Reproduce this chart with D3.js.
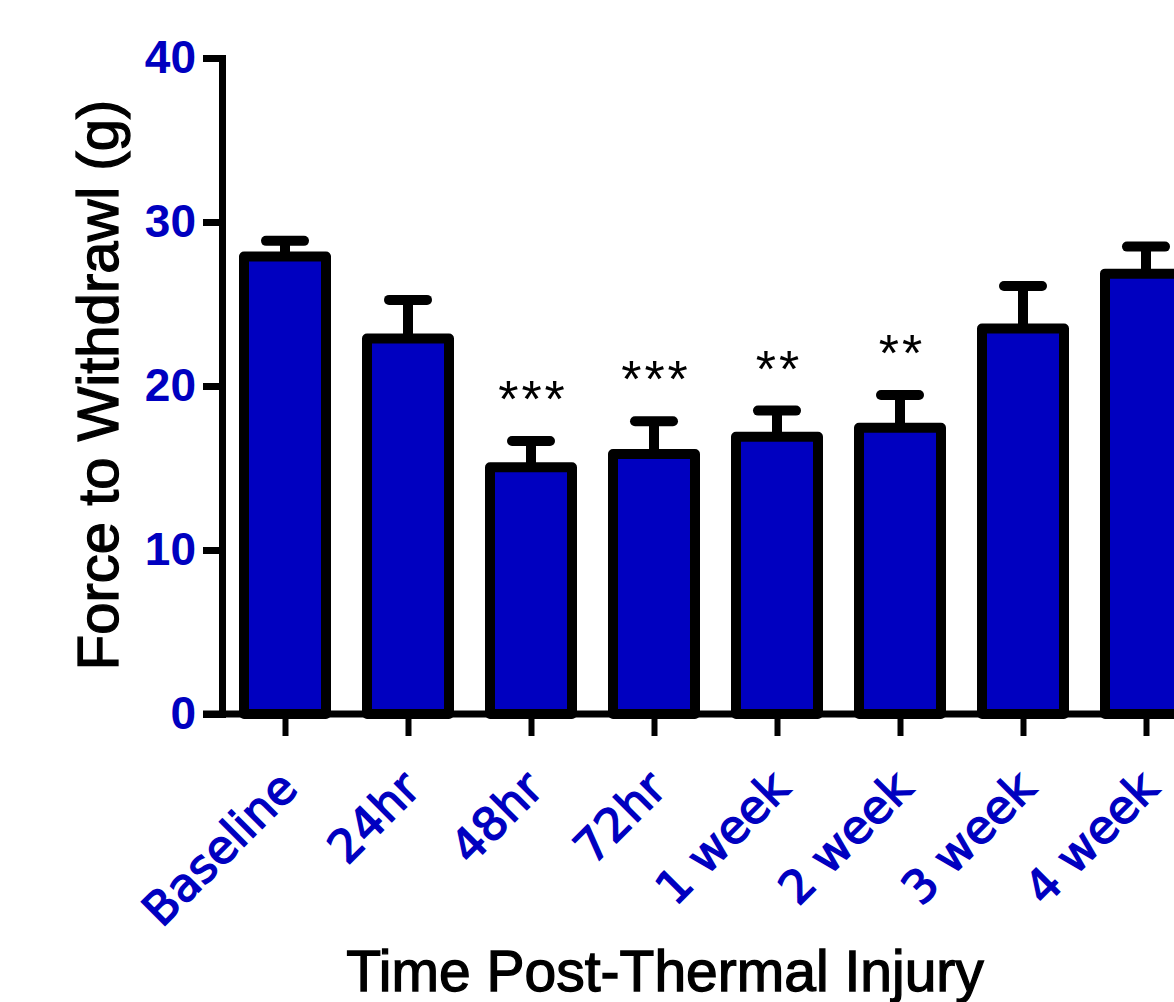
<!DOCTYPE html>
<html>
<head>
<meta charset="utf-8">
<script src="https://cdn.jsdelivr.net/npm/d3@7"></script>
<style>
  html, body { margin: 0; padding: 0; background: #fff; }
  svg { display: block; }
</style>
</head>
<body>
<svg id="chart" width="1174" height="1002"></svg>
<script>
// ---- data ----
const categories = ["Baseline", "24hr", "48hr", "72hr", "1 week", "2 week", "3 week", "4 week"];
const means = [27.9, 22.9, 15.05, 15.85, 16.9, 17.45, 23.5, 26.85];
const sems = [0.95, 2.35, 1.6, 2.0, 1.6, 2.0, 2.6, 1.65];
const significance = ["", "", "***", "***", "**", "**", "", ""];
const yTicks = [0, 10, 20, 30, 40];
const yTitle = "Force to Withdrawl (g)";
const xTitle = "Time Post-Thermal Injury";

// ---- layout ----
const BLUE = "#0000C0";
const svg = d3.select("#chart");
const axisX = 222, axisY = 714;
const y = d3.scaleLinear().domain([0, 40]).range([714, 58]);
const x = d3.scalePoint().domain(categories).range([285, 1146]);
const barW = 82;

const data = categories.map((c, i) => ({ c, m: means[i], s: sems[i], sig: significance[i] }));

// error bars (drawn first; bar outline covers stem base)
const eb = svg.append("g");
eb.selectAll("line.stem").data(data).join("line")
  .attr("x1", d => x(d.c)).attr("x2", d => x(d.c))
  .attr("y1", d => y(d.m)).attr("y2", d => y(d.m + d.s))
  .attr("stroke", "#000").attr("stroke-width", 10);
eb.selectAll("line.cap").data(data).join("line")
  .attr("x1", d => x(d.c) - 19).attr("x2", d => x(d.c) + 19)
  .attr("y1", d => y(d.m + d.s)).attr("y2", d => y(d.m + d.s))
  .attr("stroke", "#000").attr("stroke-width", 10).attr("stroke-linecap", "round");

// bars
svg.append("g").selectAll("rect").data(data).join("rect")
  .attr("x", d => x(d.c) - barW / 2)
  .attr("width", barW)
  .attr("y", d => y(d.m))
  .attr("height", d => y(0) - y(d.m))
  .attr("fill", BLUE)
  .attr("stroke", "#000").attr("stroke-width", 10).attr("stroke-linejoin", "round");

// significance stars
svg.append("g").selectAll("text").data(data.filter(d => d.sig)).join("text")
  .attr("x", d => x(d.c) + 2)
  .attr("y", d => y(d.m + d.s) - 24)
  .attr("text-anchor", "middle")
  .attr("font-family", "Liberation Sans, Arial, sans-serif")
  .attr("font-size", 52)
  .attr("letter-spacing", 3)
  .attr("fill", "#000")
  .text(d => d.sig);

// y axis
const yAxis = d3.axisLeft(y).tickValues(yTicks).tickSize(19).tickSizeOuter(0).tickPadding(7);
const gy = svg.append("g").attr("transform", `translate(${axisX},0)`).call(yAxis);
gy.select(".domain").attr("stroke", "#000").attr("stroke-width", 7).attr("stroke-linecap", "square");
gy.selectAll(".tick line").attr("stroke", "#000").attr("stroke-width", 7);
gy.selectAll(".tick text")
  .attr("font-family", "Liberation Sans, Arial, sans-serif")
  .attr("font-weight", "bold")
  .attr("font-size", 46)
  .attr("fill", BLUE);

// x axis
const xAxis = d3.axisBottom(x).tickSize(22).tickSizeOuter(0).tickFormat("");
const gx = svg.append("g").attr("transform", `translate(0,${axisY})`).call(xAxis);
gx.select(".domain").remove();
gx.append("line").attr("x1", axisX - 19).attr("x2", 1200).attr("y1", 0).attr("y2", 0)
  .attr("stroke", "#000").attr("stroke-width", 7);
gx.selectAll(".tick line").attr("stroke", "#000").attr("stroke-width", 6);

// rotated category labels
svg.append("g").selectAll("text").data(categories).join("text")
  .attr("transform", d => `translate(${x(d) - 9},${767}) rotate(-45)`)
  .attr("text-anchor", "end")
  .attr("dy", "0.73em")
  .attr("font-family", "DejaVu Sans, Verdana, sans-serif")
  .attr("font-size", 46)
  .attr("fill", BLUE)
  .attr("stroke", BLUE).attr("stroke-width", 1.4)
  .text(d => d);

// axis titles
svg.append("text")
  .attr("transform", `translate(118,385) rotate(-90)`)
  .attr("text-anchor", "middle")
  .attr("font-family", "Liberation Sans, Arial, sans-serif")
  .attr("font-size", 58)
  .attr("fill", "#000")
  .attr("stroke", "#000").attr("stroke-width", 1.3)
  .text(yTitle);
svg.append("text")
  .attr("x", 665).attr("y", 991)
  .attr("text-anchor", "middle")
  .attr("font-family", "Liberation Sans, Arial, sans-serif")
  .attr("font-size", 57)
  .attr("fill", "#000")
  .attr("stroke", "#000").attr("stroke-width", 1.3)
  .text(xTitle);
</script>
</body>
</html>
